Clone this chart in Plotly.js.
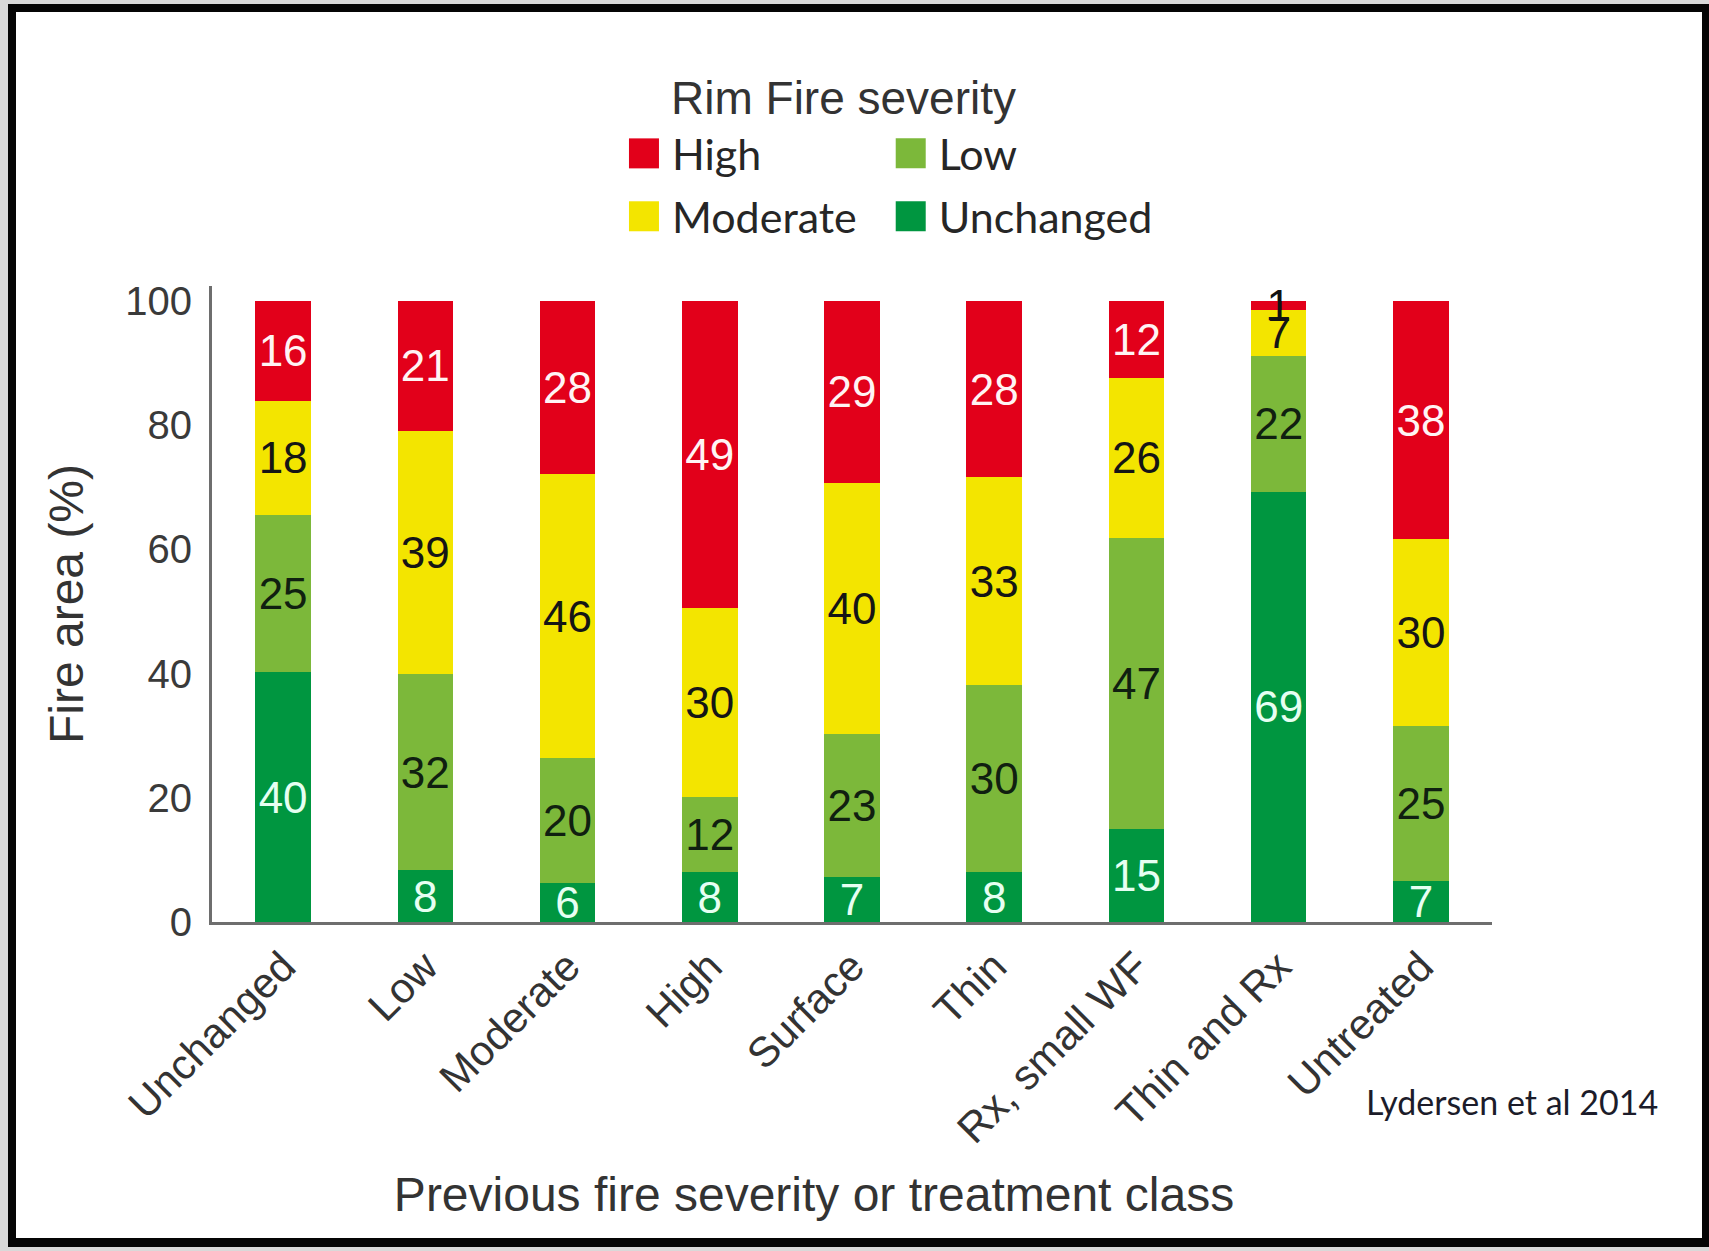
<!DOCTYPE html>
<html>
<head>
<meta charset="utf-8">
<script src="https://cdn.plot.ly/plotly-3.0.1.min.js"></script>
<style>
  html, body { margin: 0; padding: 0; background: #d9d9d9; width: 1709px; height: 1251px; overflow: hidden; }
  #frame { position: absolute; left: 8px; top: 4px; width: 1701px; height: 1243px; background: #050505; }
  #chart { position: absolute; left: 8px; top: 8px; width: 1686px; height: 1226px; background: #ffffff; }
</style>
</head>
<body>
<div id="frame"><div id="chart"></div></div>
<script>
// Previous fire severity or treatment class (x categories)
const categories = ['Unchanged', 'Low', 'Moderate', 'High', 'Surface', 'Thin', 'Rx, small WF', 'Thin and Rx', 'Untreated'];

// Rim Fire severity shares (% of fire area)
const unchanged = [40.2, 8.3, 6.3, 8.0, 7.3, 8.0, 15.0, 69.3, 6.6];
const low       = [25.4, 31.7, 20.1, 12.2, 23.0, 30.2, 46.9, 21.9, 25.0];
const moderate  = [18.3, 39.1, 45.7, 30.4, 40.4, 33.4, 25.7, 7.4, 30.0];
const high      = [16.1, 20.9, 27.9, 49.4, 29.3, 28.4, 12.4, 1.4, 38.4];

const yTicks = [0, 20, 40, 60, 80, 100];

const AX_FONT = '"Liberation Sans", Arial, Helvetica, sans-serif';
const LEG_FONT = 'Lato, "Open Sans", sans-serif';

const COLORS = { high: '#e2001a', moderate: '#f3e500', low: '#7cb83a', unchanged: '#009640' };

function barTrace(name, values, color, textColors, legendId, rank) {
  return {
    type: 'bar',
    name: name,
    x: categories,
    y: values,
    marker: { color: color, line: { width: 0 } },
    texttemplate: '%{y:.0f}',
    textposition: 'inside',
    insidetextanchor: 'middle',
    textangle: 0,
    constraintext: 'none',
    cliponaxis: false,
    textfont: { family: AX_FONT, size: 44, color: textColors },
    legend: legendId,
    legendgroup: name,
    legendrank: rank,
    hoverinfo: 'skip'
  };
}

const data = [
  barTrace('Unchanged', unchanged, COLORS.unchanged, '#e6fff2', 'legend2', 2),
  barTrace('Low', low, COLORS.low, '#102010', 'legend2', 1),
  barTrace('Moderate', moderate, COLORS.moderate, '#151515', 'legend', 2),
  barTrace('High', high, COLORS.high, high.map(v => v < 3 ? '#111111' : '#fff4f4'), 'legend', 1)
];

const legendCommon = {
  orientation: 'v',
  xanchor: 'left',
  yanchor: 'top',
  traceorder: 'grouped',
  tracegroupgap: 4,
  itemwidth: 46,
  font: { family: LEG_FONT, size: 43, color: '#262626' },
  bgcolor: 'rgba(0,0,0,0)',
  borderwidth: 0
};

const layout = {
  width: 1686,
  height: 1226,
  margin: { l: 196, r: 210, t: 274, b: 316, pad: 0 },
  paper_bgcolor: '#ffffff',
  plot_bgcolor: '#ffffff',
  barmode: 'stack',
  bargap: 0.61,
  font: { family: AX_FONT, color: '#333333' },
  showlegend: true,
  xaxis: {
    type: 'category',
    tickangle: -45,
    tickfont: { family: AX_FONT, size: 42, color: '#333333' },
    showline: true,
    linecolor: '#6e6e6e',
    linewidth: 3,
    ticks: '',
    showgrid: false,
    zeroline: false,
    automargin: false,
    title: {
      text: 'Previous fire severity or treatment class',
      font: { family: AX_FONT, size: 48, color: '#333333' },
      standoff: 27
    }
  },
  yaxis: {
    range: [0, 102.4],
    tickvals: yTicks,
    tickfont: { family: AX_FONT, size: 40, color: '#3a3a3a' },
    showline: true,
    linecolor: '#6e6e6e',
    linewidth: 3,
    ticks: '',
    ticklabelstandoff: 9,
    showgrid: false,
    zeroline: false,
    automargin: false,
    title: { text: 'Fire area (%)', font: { family: AX_FONT, size: 48, color: '#333333' }, standoff: 27 }
  },
  legend: Object.assign({}, legendCommon, { x: 0.3156, y: 1.2627 }),
  legend2: Object.assign({}, legendCommon, { x: 0.524, y: 1.2627 }),
  annotations: [
    {
      text: 'Rim Fire severity',
      xref: 'paper', yref: 'paper', x: 0.493, y: 1.296,
      xanchor: 'center', yanchor: 'middle', showarrow: false,
      font: { family: AX_FONT, size: 46, color: '#333333' }
    },
    {
      text: 'Lydersen et al 2014',
      xref: 'paper', yref: 'paper', x: 1.0156, y: -0.2825,
      xanchor: 'center', yanchor: 'middle', showarrow: false,
      font: { family: LEG_FONT, size: 34, color: '#1c1c2a' }
    }
  ]
};

Plotly.newPlot('chart', data, layout, { staticPlot: true, displayModeBar: false }).then(function (gd) {
  // enlarge the legend colour squares to match the reference swatches
  gd.querySelectorAll('.legendpoints path').forEach(function (p) {
    p.setAttribute('d', 'M15,15H-15V-15H15Z');
  });
  // the reference's x-axis title sits a little left of the plot centre
  gd.querySelectorAll('.g-xtitle text').forEach(function (t) {
    var tr = t.getAttribute('transform') || '';
    t.setAttribute('transform', 'translate(-38,0) ' + tr);
  });
});
</script>
</body>
</html>
